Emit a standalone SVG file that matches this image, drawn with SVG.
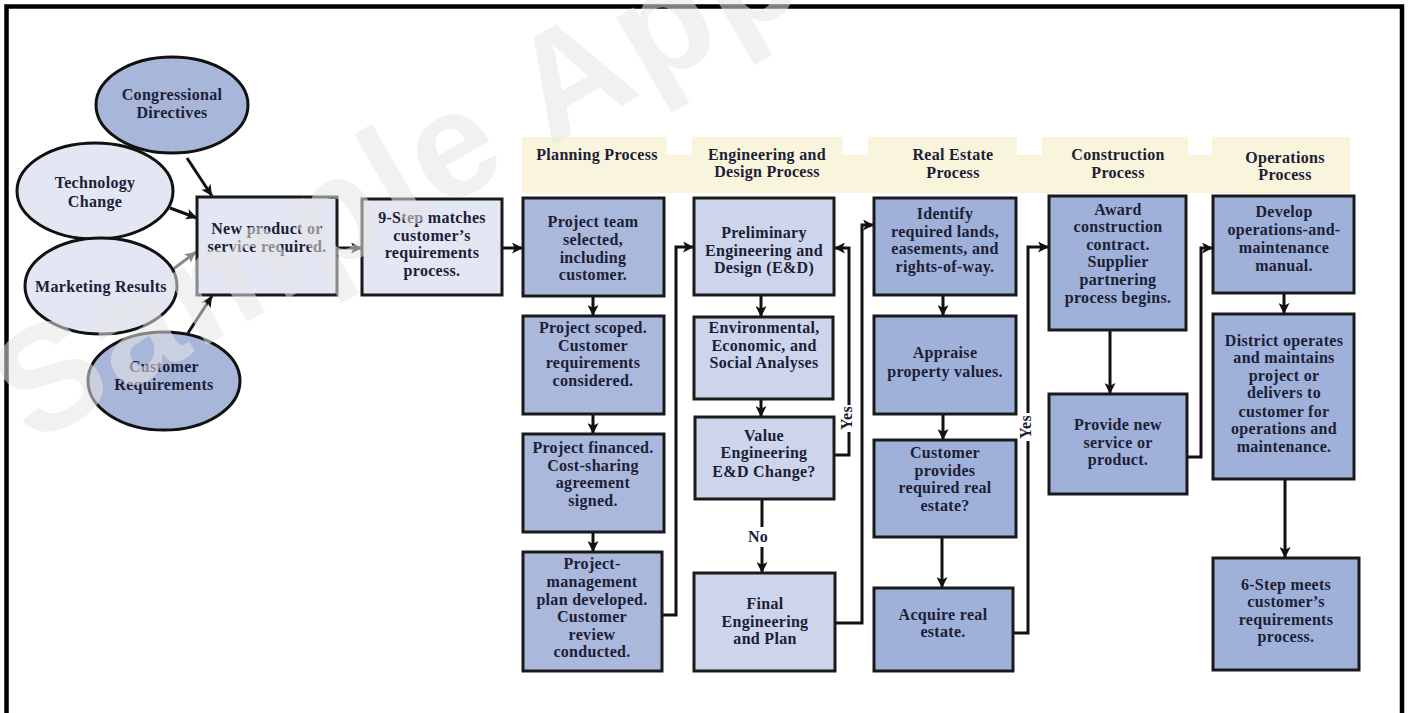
<svg xmlns="http://www.w3.org/2000/svg" width="1408" height="713" viewBox="0 0 1408 713">
  <defs>
    <marker id="arrow" viewBox="0 0 10 10" refX="10" refY="5" markerWidth="12" markerHeight="11" markerUnits="userSpaceOnUse" orient="auto">
      <path d="M0,0 L10,5 L0,10 L2.5,5 z" fill="#111"/>
    </marker>
    <marker id="arrow-gray" viewBox="0 0 10 10" refX="10" refY="5" markerWidth="12" markerHeight="11" markerUnits="userSpaceOnUse" orient="auto">
      <path d="M0,0 L10,5 L0,10 L2.5,5 z" fill="#8a8a8a"/>
    </marker>
    <style>
      .frame { fill: none; stroke: #000; stroke-width: 4.5; }
      .band { fill: #f9f5dd; }
      .notch { fill: #fff; }
      .box { stroke: #1a1a1a; stroke-width: 3; }
      .ell { stroke: #111; stroke-width: 3; }
      .mid { fill: #a8b6da; }
      .plan { fill: #aab8dc; }
      .eng { fill: #ccd5eb; }
      .deep { fill: #9fb0d9; }
      .pale { fill: #e3e7f3; }
      .t { font-family: "Liberation Serif", "Times New Roman", serif; font-weight: bold; font-size: 16px; fill: #1c2036; text-anchor: middle; letter-spacing: 0.3px; }
      .h { font-family: "Liberation Serif", "Times New Roman", serif; font-weight: bold; font-size: 16px; fill: #1c2036; text-anchor: middle; letter-spacing: 0.3px; }
      .conn { fill: none; stroke: #111; stroke-width: 3; marker-end: url(#arrow); }
      .conn-gray { fill: none; stroke: #8a8a8a; stroke-width: 3; marker-end: url(#arrow-gray); }
      .lbl-bg { fill: #fff; }
      .wm { font-family: "Liberation Sans", Arial, sans-serif; font-weight: bold; font-size: 150px; fill: #e6e6e6; fill-opacity: 0.55; letter-spacing: 4px; }
    </style>
  </defs>

  <rect width="1408" height="713" fill="#fff"/>

  <!-- outer frame: left, top and right edges -->
  <path class="frame" d="M6.5,713 V6.5 H1402 V713"/>

  <!-- phase header band -->
  <g id="header-band">
    <rect class="band" x="522" y="137" width="828" height="56"/>
    <rect class="notch" x="667" y="137" width="25" height="18"/>
    <rect class="notch" x="843" y="137" width="25" height="18"/>
    <rect class="notch" x="1017" y="137" width="25" height="18"/>
    <rect class="notch" x="1188" y="137" width="24" height="18"/>
    <text class="h" x="597" y="160">Planning Process</text>
    <text class="h" x="767" y="160">Engineering and</text>
    <text class="h" x="767" y="177">Design Process</text>
    <text class="h" x="953" y="160">Real Estate</text>
    <text class="h" x="953" y="178">Process</text>
    <text class="h" x="1118" y="160">Construction</text>
    <text class="h" x="1118" y="178">Process</text>
    <text class="h" x="1285" y="163">Operations</text>
    <text class="h" x="1285" y="180">Process</text>
  </g>

  <!-- connectors -->
  <g id="connectors">
    <path class="conn" d="M187,158 L212,196"/>
    <path class="conn" d="M170,208 L197,218"/>
    <path class="conn-gray" d="M172,270 L196,252"/>
    <path class="conn" d="M188,333 L212,296"/>
    <path class="conn" d="M337,248 H362"/>
    <path class="conn" d="M502,248 H523"/>
    <path class="conn" d="M593,296 V316"/>
    <path class="conn" d="M593,414 V434"/>
    <path class="conn" d="M593,532 V552"/>
    <path class="conn" d="M662,615 H676 V247 H694"/>
    <path class="conn" d="M761,295 V317"/>
    <path class="conn" d="M761,399 V417"/>
    <path class="conn" d="M762,499 V573"/>
    <path class="conn" d="M834,455 H849 V248 H834"/>
    <path class="conn" d="M835,623 H862 V225 H874"/>
    <path class="conn" d="M943,295 V316"/>
    <path class="conn" d="M943,414 V440"/>
    <path class="conn" d="M942,537 V588"/>
    <path class="conn" d="M1013,633 H1028 V247 H1049"/>
    <path class="conn" d="M1110,330 V394"/>
    <path class="conn" d="M1187,457 H1201 V248 H1213"/>
    <path class="conn" d="M1284,293 V314"/>
    <path class="conn" d="M1285,479 V558"/>
    <!-- branch labels -->
    <rect class="lbl-bg" x="748" y="527" width="24" height="20"/>
    <text class="t" x="758" y="542">No</text>
    <rect class="lbl-bg" x="839" y="405" width="18" height="27"/>
    <text class="t" transform="translate(852,418) rotate(-90)">Yes</text>
    <rect class="lbl-bg" x="1018" y="413" width="18" height="28"/>
    <text class="t" transform="translate(1031,427) rotate(-90)">Yes</text>
  </g>

  <!-- drivers -->
  <g id="congressional-directives">
    <ellipse class="ell mid" cx="172" cy="105" rx="76" ry="48"/>
    <text class="t" x="172" y="100">Congressional</text>
    <text class="t" x="172" y="118">Directives</text>
  </g>
  <g id="technology-change">
    <ellipse class="ell pale" cx="95" cy="191" rx="78" ry="48"/>
    <text class="t" x="95" y="188">Technology</text>
    <text class="t" x="95" y="207">Change</text>
  </g>
  <g id="marketing-results">
    <ellipse class="ell pale" cx="101" cy="286" rx="76" ry="48"/>
    <text class="t" x="101" y="292">Marketing Results</text>
  </g>
  <g id="customer-requirements">
    <ellipse class="ell mid" cx="164" cy="381" rx="76" ry="49"/>
    <text class="t" x="164" y="372">Customer</text>
    <text class="t" x="164" y="390">Requirements</text>
  </g>

  <g id="new-product">
    <rect class="box pale" x="197" y="197" width="140" height="98"/>
    <text class="t" x="267" y="234">New product or</text>
    <text class="t" x="267" y="252">service required.</text>
  </g>
  <g id="nine-step">
    <rect class="box pale" x="362" y="199" width="140" height="96"/>
    <text class="t" x="432" y="223">9-Step matches</text>
    <text class="t" x="432" y="241">customer’s</text>
    <text class="t" x="432" y="258">requirements</text>
    <text class="t" x="432" y="276">process.</text>
  </g>

  <!-- planning -->
  <g id="team-selected">
    <rect class="box plan" x="523" y="198" width="141" height="98"/>
    <text class="t" x="593" y="227">Project team</text>
    <text class="t" x="593" y="245">selected,</text>
    <text class="t" x="593" y="263">including</text>
    <text class="t" x="593" y="280">customer.</text>
  </g>
  <g id="project-scoped">
    <rect class="box plan" x="523" y="316" width="141" height="98"/>
    <text class="t" x="593" y="333">Project scoped.</text>
    <text class="t" x="593" y="351">Customer</text>
    <text class="t" x="593" y="368">requirements</text>
    <text class="t" x="593" y="386">considered.</text>
  </g>
  <g id="project-financed">
    <rect class="box plan" x="523" y="434" width="141" height="98"/>
    <text class="t" x="593" y="453">Project financed.</text>
    <text class="t" x="593" y="471">Cost-sharing</text>
    <text class="t" x="593" y="488">agreement</text>
    <text class="t" x="593" y="506">signed.</text>
  </g>
  <g id="management-plan">
    <rect class="box plan" x="523" y="552" width="139" height="119"/>
    <text class="t" x="592" y="569">Project-</text>
    <text class="t" x="592" y="587">management</text>
    <text class="t" x="592" y="605">plan developed.</text>
    <text class="t" x="592" y="622">Customer</text>
    <text class="t" x="592" y="640">review</text>
    <text class="t" x="592" y="657">conducted.</text>
  </g>

  <!-- engineering and design -->
  <g id="preliminary-ed">
    <rect class="box eng" x="694" y="198" width="140" height="97"/>
    <text class="t" x="764" y="238">Preliminary</text>
    <text class="t" x="764" y="256">Engineering and</text>
    <text class="t" x="764" y="273">Design (E&amp;D)</text>
  </g>
  <g id="analyses">
    <rect class="box eng" x="694" y="317" width="139" height="82"/>
    <text class="t" x="764" y="333">Environmental,</text>
    <text class="t" x="764" y="351">Economic, and</text>
    <text class="t" x="764" y="368">Social Analyses</text>
  </g>
  <g id="value-engineering">
    <rect class="box eng" x="695" y="417" width="139" height="82"/>
    <text class="t" x="764" y="441">Value</text>
    <text class="t" x="764" y="458">Engineering</text>
    <text class="t" x="764" y="477">E&amp;D Change?</text>
  </g>
  <g id="final-engineering">
    <rect class="box eng" x="694" y="573" width="141" height="98"/>
    <text class="t" x="765" y="609">Final</text>
    <text class="t" x="765" y="627">Engineering</text>
    <text class="t" x="765" y="644">and Plan</text>
  </g>

  <!-- real estate -->
  <g id="identify-lands">
    <rect class="box deep" x="874" y="198" width="142" height="97"/>
    <text class="t" x="945" y="219">Identify</text>
    <text class="t" x="945" y="237">required lands,</text>
    <text class="t" x="945" y="254">easements, and</text>
    <text class="t" x="945" y="272">rights-of-way.</text>
  </g>
  <g id="appraise">
    <rect class="box deep" x="874" y="316" width="142" height="98"/>
    <text class="t" x="945" y="358">Appraise</text>
    <text class="t" x="945" y="377">property values.</text>
  </g>
  <g id="customer-provides">
    <rect class="box deep" x="874" y="440" width="142" height="97"/>
    <text class="t" x="945" y="458">Customer</text>
    <text class="t" x="945" y="476">provides</text>
    <text class="t" x="945" y="493">required real</text>
    <text class="t" x="945" y="511">estate?</text>
  </g>
  <g id="acquire">
    <rect class="box deep" x="874" y="588" width="139" height="83"/>
    <text class="t" x="943" y="620">Acquire real</text>
    <text class="t" x="943" y="637">estate.</text>
  </g>

  <!-- construction -->
  <g id="award-contract">
    <rect class="box deep" x="1049" y="196" width="137" height="134"/>
    <text class="t" x="1118" y="215">Award</text>
    <text class="t" x="1118" y="232">construction</text>
    <text class="t" x="1118" y="250">contract.</text>
    <text class="t" x="1118" y="267">Supplier</text>
    <text class="t" x="1118" y="285">partnering</text>
    <text class="t" x="1118" y="303">process begins.</text>
  </g>
  <g id="provide-service">
    <rect class="box deep" x="1049" y="394" width="138" height="100"/>
    <text class="t" x="1118" y="430">Provide new</text>
    <text class="t" x="1118" y="448">service or</text>
    <text class="t" x="1118" y="465">product.</text>
  </g>

  <!-- operations -->
  <g id="om-manual">
    <rect class="box deep" x="1213" y="196" width="141" height="97"/>
    <text class="t" x="1284" y="217">Develop</text>
    <text class="t" x="1284" y="235">operations-and-</text>
    <text class="t" x="1284" y="253">maintenance</text>
    <text class="t" x="1284" y="271">manual.</text>
  </g>
  <g id="district-operates">
    <rect class="box deep" x="1213" y="314" width="141" height="165"/>
    <text class="t" x="1284" y="346">District operates</text>
    <text class="t" x="1284" y="363">and maintains</text>
    <text class="t" x="1284" y="381">project or</text>
    <text class="t" x="1284" y="398">delivers to</text>
    <text class="t" x="1284" y="417">customer for</text>
    <text class="t" x="1284" y="434">operations and</text>
    <text class="t" x="1284" y="452">maintenance.</text>
  </g>
  <g id="six-step">
    <rect class="box deep" x="1213" y="558" width="146" height="112"/>
    <text class="t" x="1286" y="590">6-Step meets</text>
    <text class="t" x="1286" y="607">customer’s</text>
    <text class="t" x="1286" y="625">requirements</text>
    <text class="t" x="1286" y="642">process.</text>
  </g>

  <!-- watermark -->
  <text class="wm" transform="translate(32,446) rotate(-30)">Sample App</text>
</svg>
